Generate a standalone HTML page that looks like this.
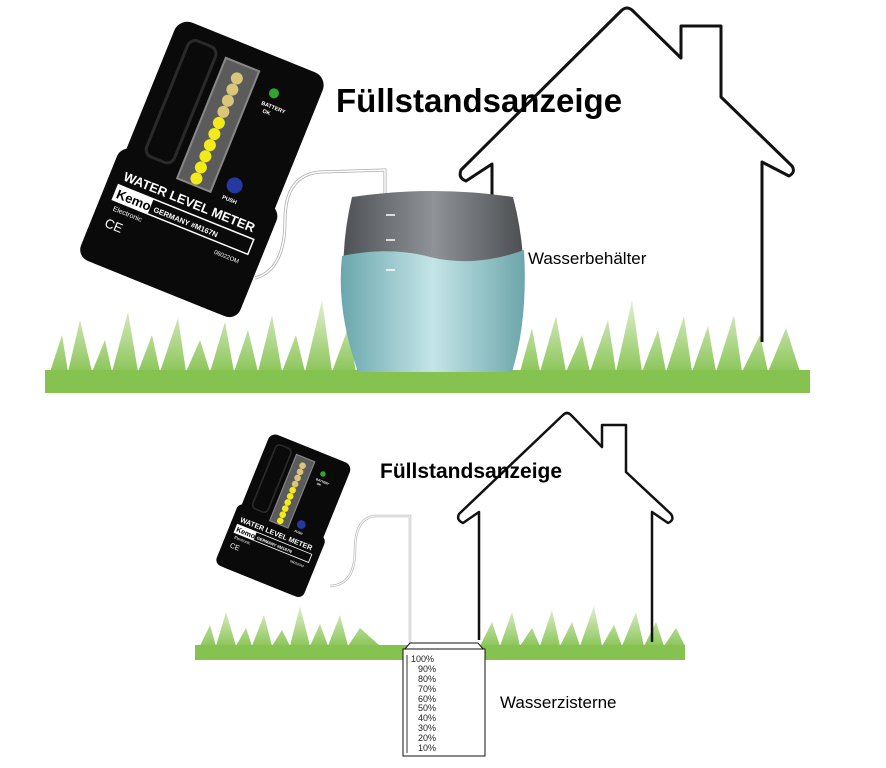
<!DOCTYPE html>
<html><head><meta charset="utf-8"><style>
html,body{margin:0;padding:0;background:#fff;}
svg{display:block;}
text{font-family:"Liberation Sans",sans-serif;}
</style></head><body>
<svg width="886" height="768" viewBox="0 0 886 768" xmlns="http://www.w3.org/2000/svg">
<defs>
<linearGradient id="gr" x1="0" y1="0" x2="0" y2="1"><stop offset="0" stop-color="#e2f0d0"/><stop offset="1" stop-color="#8cc65a"/></linearGradient>
<linearGradient id="bar" x1="0" y1="0" x2="1" y2="0"><stop offset="0" stop-color="#4f5255"/><stop offset="0.5" stop-color="#8f9397"/><stop offset="1" stop-color="#4c4f52"/></linearGradient>
<linearGradient id="wat" x1="0" y1="0" x2="1" y2="0"><stop offset="0" stop-color="#6aa7ad"/><stop offset="0.5" stop-color="#c4e5e8"/><stop offset="1" stop-color="#6ca6ab"/></linearGradient>
<g id="dev">
 <rect x="-80" y="-130" width="160" height="260" rx="14" fill="#0a0a0a"/>
 <rect x="-86" y="10" width="172" height="120" rx="12" fill="#0a0a0a"/>
 <rect x="-62" y="-115" width="30" height="125" rx="8" fill="none" stroke="#2a2a2a" stroke-width="3"/>
 <rect x="-22" y="-110" width="36" height="130" fill="#5b5b5b" stroke="#888" stroke-width="2"/>
 <g fill="#d9c67a">
  <circle cx="-4" cy="-95" r="6"/><circle cx="-4" cy="-83" r="6"/><circle cx="-4" cy="-71" r="6"/><circle cx="-4" cy="-59" r="6"/>
 </g>
 <g fill="#f2ea1a">
  <circle cx="-4" cy="-47" r="6"/><circle cx="-4" cy="-35" r="6"/><circle cx="-4" cy="-23" r="6"/><circle cx="-4" cy="-11" r="6"/><circle cx="-4" cy="1" r="6"/><circle cx="-4" cy="13" r="6"/>
 </g>
 <circle cx="36" cy="-95" r="5" fill="#2fa52f"/>
 <text x="28" y="-80" font-size="5.5" fill="#fff" font-weight="bold">BATTERY</text>
 <text x="32" y="-73" font-size="5.5" fill="#fff" font-weight="bold">OK</text>
 <circle cx="34" cy="5" r="8" fill="#2438a0"/>
 <text x="27" y="22" font-size="5.5" fill="#fff" font-weight="bold">PUSH</text>
 <text x="-72" y="42" font-size="13" fill="#fff" font-weight="bold">WATER LEVEL METER</text>
 <rect x="-74" y="48" width="146" height="16" fill="none" stroke="#fff" stroke-width="1.5"/>
 <rect x="-74" y="48" width="38" height="16" fill="#fff"/>
 <text x="-72" y="61" font-size="13" fill="#000" font-weight="bold">Kemo</text>
 <text x="-32" y="60" font-size="7.5" fill="#fff" font-weight="bold">GERMANY  #M167N</text>
 <text x="-70" y="74" font-size="7" fill="#fff">Electronic</text>
 <text x="-72" y="92" font-size="13" fill="#fff">CE</text>
 <text x="40" y="76" font-size="6" fill="#fff">06022OM</text>
</g>
</defs>

<g fill="url(#gr)">
 <path d="M50 372 L62 335 L68 372 L80 320 L92 372 L105 340 L112 372 L128 312 L138 372 L152 335 L160 372 L178 318 L186 372 L200 340 L210 372 L225 322 L234 372 L248 330 L258 372 L272 315 L282 372 L296 335 L305 372 L322 300 L332 372 L348 328 L356 372 L372 318 L380 372 L520 372 L532 328 L540 372 L556 316 L566 372 L582 335 L590 372 L608 320 L616 372 L632 300 L642 372 L658 330 L666 372 L684 316 L692 372 L708 326 L716 372 L734 315 L742 372 L760 335 L768 372 L786 328 L800 372 Z"/>
</g>
<rect x="45" y="370" width="765" height="23" fill="#86c250"/>

<path d="M492 340 V164 L466 181 Q458 178 461 170 L622 10 Q627 6 632 10 L681 58 V26 H721 V97 L792 166 Q796 172 789 176 L762 162 V342" fill="none" stroke="#111" stroke-width="3" stroke-linejoin="round"/>

<path d="M255 278 Q285 270 285 220 Q285 175 320 172 L385 170 L385 300" fill="none" stroke="#aaa" stroke-width="3"/>
<path d="M255 278 Q285 270 285 220 Q285 175 320 172 L385 170 L385 300" fill="none" stroke="#fff" stroke-width="1.5"/>

<path d="M352 197 Q432 185 513 197 Q535 280 512 372 L358 372 Q332 280 352 197 Z" fill="url(#bar)"/>
<path d="M342 256 Q390 246 430 257 Q475 268 524 250 Q528 320 512 372 L358 372 Q336 310 342 256 Z" fill="url(#wat)"/>
<g stroke="#fff" stroke-width="1.5"><line x1="386" y1="215" x2="395" y2="215"/><line x1="386" y1="240" x2="395" y2="240"/><line x1="386" y1="270" x2="395" y2="270"/></g>

<use href="#dev" transform="translate(205,168) rotate(22)"/>

<text x="336" y="112" font-size="33" font-weight="bold" fill="#000">Füllstandsanzeige</text>
<text x="528" y="264" font-size="17" fill="#000">Wasserbehälter</text>

<g fill="url(#gr)">
 <path d="M200 646 L210 625 L216 646 L226 612 L236 646 L246 628 L252 646 L264 615 L272 646 L282 630 L290 646 L300 606 L310 646 L320 624 L328 646 L340 615 L348 646 L360 628 L380 646 L480 646 L492 622 L500 646 L512 612 L520 646 L532 628 L540 646 L552 610 L560 646 L572 622 L580 646 L594 606 L602 646 L614 625 L622 646 L636 612 L644 646 L656 622 L664 646 L676 628 L685 646 Z"/>
</g>
<rect x="195" y="645" width="490" height="15" fill="#86c250"/>

<path d="M479 640 V512 L463 523 Q456 520 459 514 L563 415 Q567 411 571 415 L602 447 V425 H626 V472 L671 514 Q675 520 668 523 L652 512 V642" fill="none" stroke="#111" stroke-width="2.5" stroke-linejoin="round"/>

<path d="M330 586 Q355 585 355 550 Q355 518 375 516 L410 516 L410 650" fill="none" stroke="#bbb" stroke-width="2.5"/>
<path d="M330 586 Q355 585 355 550 Q355 518 375 516 L410 516 L410 650" fill="none" stroke="#fff" stroke-width="1"/>

<use href="#dev" transform="translate(285,515) rotate(22) scale(0.55)"/>

<text x="380" y="478" font-size="21" font-weight="bold" fill="#000">Füllstandsanzeige</text>

<path d="M410 643 L478 643 L484 650 L404 650 Z" fill="#fff" stroke="#111" stroke-width="1"/>
<rect x="403" y="649" width="82" height="107" fill="#fff" stroke="#111" stroke-width="1"/>
<line x1="407" y1="655" x2="407" y2="753" stroke="#333" stroke-width="1"/>
<g font-size="9" fill="#222">
<text x="411" y="662">100%</text><text x="418" y="672">90%</text><text x="418" y="682">80%</text><text x="418" y="692">70%</text><text x="418" y="702">60%</text><text x="418" y="711">50%</text><text x="418" y="721">40%</text><text x="418" y="731">30%</text><text x="418" y="741">20%</text><text x="418" y="751">10%</text>
</g>
<text x="500" y="708" font-size="17" fill="#000">Wasserzisterne</text>
</svg>
</body></html>
